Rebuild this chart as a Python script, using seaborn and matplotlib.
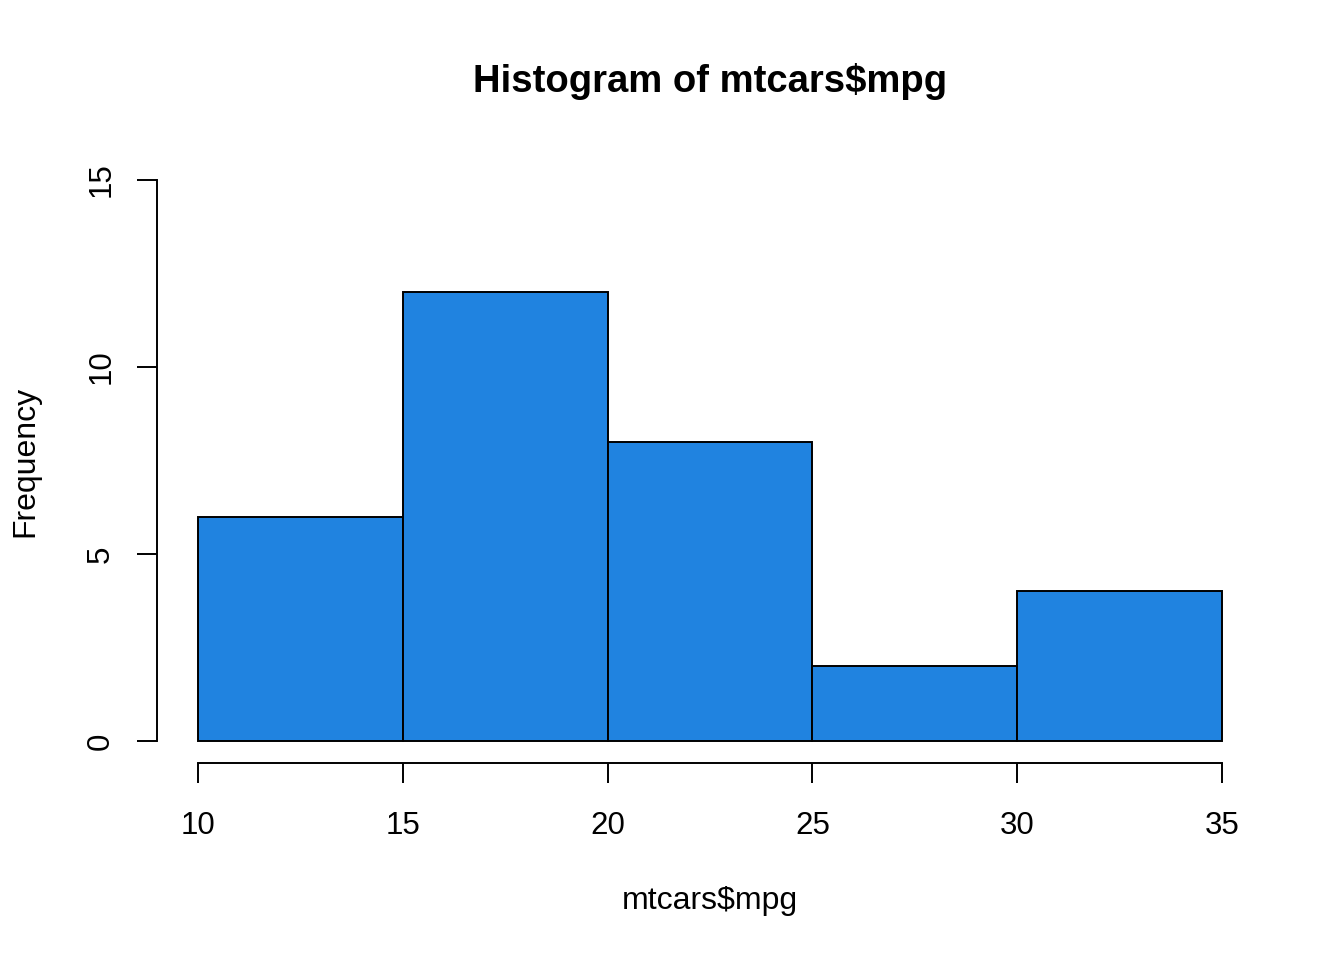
import matplotlib
matplotlib.use('Agg')
import matplotlib.pyplot as plt
import seaborn as sns
import numpy as np

#=====DATA=====
bin_edges = [10, 15, 20, 25, 30, 35]
counts = [6, 12, 8, 2, 4]
x_ticks = [10, 15, 20, 25, 30, 35]
y_ticks = [0, 5, 10, 15]
title = "Histogram of mtcars\\$mpg"
x_label = "mtcars\\$mpg"
y_label = "Frequency"

bin_mid = [(a + b) / 2 for a, b in zip(bin_edges[:-1], bin_edges[1:])]

#=====STYLE=====
sns.set_style("white")
plt.rcParams['font.family'] = ['Liberation Sans', 'DejaVu Sans']
plt.rcParams['text.color'] = 'black'
plt.rcParams['xtick.color'] = 'black'
plt.rcParams['ytick.color'] = 'black'

fig = plt.figure(figsize=(13.44, 9.6), dpi=100)
ax = fig.add_axes([0.1168, 0.2048, 0.8229, 0.6310])

sns.histplot(x=bin_mid, weights=counts, bins=bin_edges, ax=ax,
             color="#2083E0", alpha=1, edgecolor="black", linewidth=1.4)

# R style axes
ax.set_xlim(9, 36)
ax.set_ylim(-0.6, 15.6)
for s in ["top", "right"]:
    ax.spines[s].set_visible(False)
ax.spines["left"].set_bounds(0, 15)
ax.spines["bottom"].set_bounds(10, 35)
for s in ["left", "bottom"]:
    ax.spines[s].set_linewidth(1.4)
    ax.spines[s].set_color("black")
ax.set_xticks(x_ticks)
ax.set_yticks(y_ticks)
ax.tick_params(axis="both", direction="out", length=14.4, width=1.4,
               labelsize=22.5, color="black", labelcolor="black",
               left=True, bottom=True)
ax.tick_params(axis="x", pad=20)
ax.tick_params(axis="y", pad=15)
for lab in ax.get_yticklabels():
    lab.set_rotation(90)
    lab.set_va("center")

ax.set_xlabel("")
ax.set_ylabel("")
fig.text(710 / 1344, 1 - 901 / 960, x_label, ha="center", va="center", fontsize=23, color="black")
fig.text(25 / 1344, 1 - 461 / 960, y_label, ha="center", va="center", fontsize=23, rotation=90, color="black")
fig.text(710 / 1344, 1 - 81 / 960, title, ha="center", va="center", fontsize=27.5,
         fontweight="bold", color="black")

fig.savefig("out.png", dpi=100)
